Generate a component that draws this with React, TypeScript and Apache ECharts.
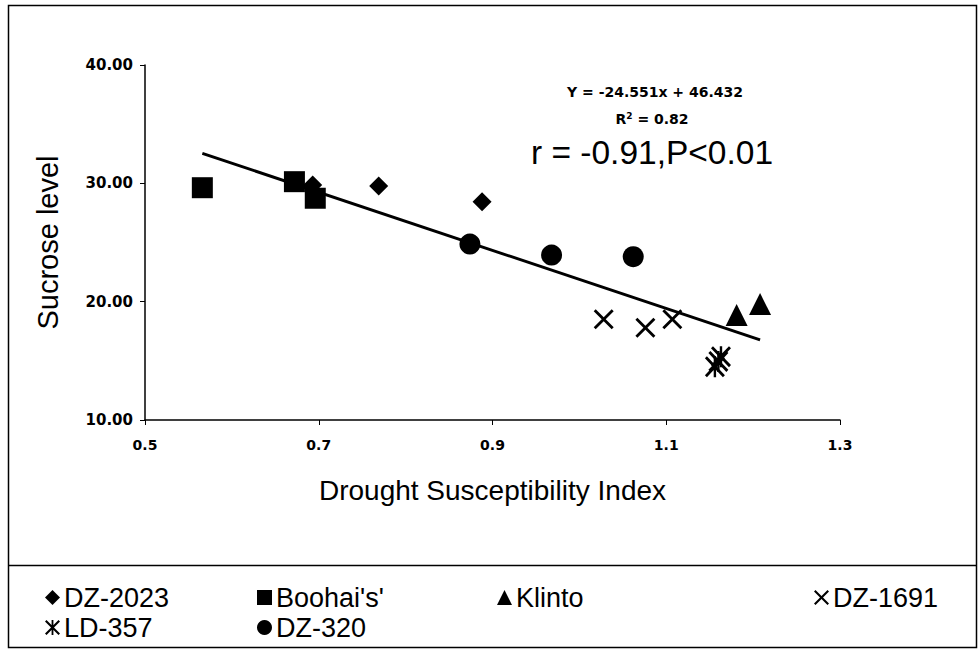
import React, { useEffect, useRef } from "react";
import * as echarts from "echarts";

const FONT = "'Liberation Sans', Arial, sans-serif";
const BOLD_FONT = "'DejaVu Sans', 'Liberation Sans', sans-serif";

const seriesNames = ["DZ-2023", "Boohai's'", "Klinto", "DZ-1691", "LD-357", "DZ-320"];

const dz2023: [number, number][] = [
  [0.693, 29.86],
  [0.769, 29.78],
  [0.888, 28.45],
];
const boohai: [number, number][] = [
  [0.566, 29.63],
  [0.672, 30.14],
  [0.696, 28.74],
];
const klinto: [number, number][] = [
  [1.181, 18.87],
  [1.208, 19.8],
];
const dz1691: [number, number][] = [
  [1.028, 18.51],
  [1.076, 17.8],
  [1.107, 18.51],
];
const ld357: [number, number][] = [
  [1.156, 14.5],
  [1.16, 14.95],
  [1.163, 15.35],
];
const dz320: [number, number][] = [
  [0.874, 24.87],
  [0.968, 23.94],
  [1.062, 23.8],
];

const slope = -24.551;
const intercept = 46.432;
const eqText = "Y = -24.551x + 46.432";
const r2Text = "R{sup|2} = 0.82";
const rText = "r = -0.91,P<0.01";

const xTicks = [0.5, 0.7, 0.9, 1.1, 1.3];
const yTicks = [10, 20, 30, 40];

const X_PATH =
  "path://M2,0 L10,8 L18,0 L20,2 L12,10 L20,18 L18,20 L10,12 L2,20 L0,18 L8,10 L0,2 Z";
const AST_PATH =
  "path://M2,0 L10,8 L18,0 L20,2 L12,10 L20,18 L18,20 L10,12 L2,20 L0,18 L8,10 L0,2 Z M8.8,0 L11.2,0 L11.2,20 L8.8,20 Z";

const symbols: Record<string, { symbol: string; size: number[] }> = {
  "DZ-2023": { symbol: "diamond", size: [19, 19] },
  "Boohai's'": { symbol: "rect", size: [21, 21] },
  Klinto: { symbol: "triangle", size: [22, 22] },
  "DZ-1691": { symbol: X_PATH, size: [20, 20] },
  "LD-357": { symbol: AST_PATH, size: [20, 21] },
  "DZ-320": { symbol: "circle", size: [21, 21] },
};

const dataByName: Record<string, [number, number][]> = {
  "DZ-2023": dz2023,
  "Boohai's'": boohai,
  Klinto: klinto,
  "DZ-1691": dz1691,
  "LD-357": ld357,
  "DZ-320": dz320,
};

const legendPos: Record<string, { left: number; top: number }> = {
  "DZ-2023": { left: 45, top: 584 },
  "Boohai's'": { left: 257, top: 584 },
  Klinto: { left: 497, top: 584 },
  "DZ-1691": { left: 814, top: 584 },
  "LD-357": { left: 45, top: 614 },
  "DZ-320": { left: 257, top: 614 },
};

export default function App() {
  const ref = useRef<HTMLDivElement>(null);
  useEffect(() => {
    if (!ref.current) return;
    const chart = echarts.init(ref.current, undefined, { renderer: "svg" });

    const allX = [...dz2023, ...boohai, ...klinto, ...dz1691, ...ld357, ...dz320].map((p) => p[0]);
    const xMin = Math.min(...allX);
    const xMax = Math.max(...allX);
    const trend: [number, number][] = [
      [xMin, slope * xMin + intercept],
      [xMax, slope * xMax + intercept],
    ];

    const scatterSeries = seriesNames.map((n) => ({
      name: n,
      type: "scatter",
      data: dataByName[n],
      symbol: symbols[n].symbol,
      symbolSize: symbols[n].size,
      itemStyle: { color: "#000", opacity: 1 },
      z: 3,
    }));

    const legends = seriesNames.map((n) => ({
      data: [{ name: n, icon: symbols[n].symbol }],
      left: legendPos[n].left,
      top: legendPos[n].top,
      itemWidth: 15,
      itemHeight: 15,
      itemGap: 0,
      selectedMode: false,
      textStyle: { fontFamily: FONT, fontSize: 27, color: "#000", padding: [0, 0, 0, -1] },
      padding: 0,
    }));

    chart.setOption({
      animation: false,
      backgroundColor: "#fff",
      grid: { left: 145, right: 140, top: 65, bottom: 232 },
      xAxis: {
        type: "value",
        min: 0.5,
        max: 1.3,
        interval: 0.2,
        name: "Drought Susceptibility Index",
        nameLocation: "middle",
        nameGap: 56,
        nameTextStyle: { fontFamily: FONT, fontSize: 28, color: "#000" },
        axisLine: { show: true, lineStyle: { color: "#000", width: 1.5 } },
        axisTick: { show: true, length: 5, lineStyle: { color: "#000" } },
        splitLine: { show: false },
        axisLabel: {
          fontFamily: BOLD_FONT,
          fontSize: 14,
          fontWeight: "bold",
          color: "#000",
          margin: 18,
          formatter: (v: number) => {
            const t = xTicks.find((k) => Math.abs(k - v) < 1e-6);
            return t !== undefined ? t.toFixed(1) : "";
          },
        },
      },
      yAxis: {
        type: "value",
        min: 10,
        max: 40,
        interval: 10,
        name: "Sucrose level",
        nameLocation: "middle",
        nameGap: 83,
        nameTextStyle: { fontFamily: FONT, fontSize: 29, color: "#000" },
        axisLine: { show: true, lineStyle: { color: "#000", width: 1.5 } },
        axisTick: { show: true, length: 5, inside: false, lineStyle: { color: "#000" } },
        splitLine: { show: false },
        axisLabel: {
          fontFamily: BOLD_FONT,
          fontSize: 15,
          fontWeight: "bold",
          color: "#000",
          margin: 12,
          formatter: (v: number) => {
            const t = yTicks.find((k) => Math.abs(k - v) < 1e-6);
            return t !== undefined ? t.toFixed(2) : "";
          },
        },
      },
      legend: legends,
      series: [
        ...scatterSeries,
        {
          name: "trend",
          type: "line",
          data: trend,
          symbol: "none",
          lineStyle: { color: "#000", width: 3 },
          z: 2,
        },
      ],
      graphic: [
        {
          type: "rect",
          shape: { x: 8.5, y: 5.5, width: 968, height: 642 },
          style: { fill: "none", stroke: "#000", lineWidth: 1.5 },
          silent: true,
        },
        {
          type: "line",
          shape: { x1: 8.5, y1: 565.5, x2: 976.5, y2: 565.5 },
          style: { stroke: "#000", lineWidth: 1.5 },
          silent: true,
        },
        {
          type: "text",
          x: 655,
          y: 92,
          style: {
            text: eqText,
            fontFamily: BOLD_FONT,
            fontSize: 14,
            fontWeight: "bold",
            fill: "#000",
            align: "center",
            verticalAlign: "middle",
          },
        },
        {
          type: "text",
          x: 652,
          y: 119,
          style: {
            text: r2Text,
            fontFamily: BOLD_FONT,
            fontSize: 14,
            fontWeight: "bold",
            fill: "#000",
            align: "center",
            verticalAlign: "middle",
            rich: {
              sup: {
                fontSize: 9,
                fontWeight: "bold",
                fontFamily: BOLD_FONT,
                verticalAlign: "top",
                padding: [0, 0, 7, 0],
              },
            },
          },
        },
        {
          type: "text",
          x: 652,
          y: 152,
          style: {
            text: rText,
            fontFamily: FONT,
            fontSize: 33.5,
            fill: "#000",
            align: "center",
            verticalAlign: "middle",
          },
        },
      ],
    });
    return () => chart.dispose();
  }, []);
  return (
    <div
      ref={ref}
      style={{ position: "absolute", left: 0, top: 0, width: 980, height: 652 }}
    />
  );
}
